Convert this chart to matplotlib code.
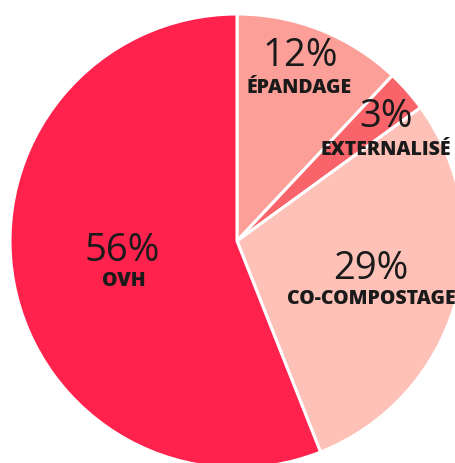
import matplotlib
matplotlib.use("Agg")
import matplotlib.pyplot as plt

categories = ["ÉPANDAGE", "EXTERNALISÉ", "CO-COMPOSTAGE", "OVH"]
values = [12, 3, 29, 56]
pct_labels = ["12%", "3%", "29%", "56%"]
colors = ["#fb9f98", "#f86469", "#fdc1b8", "#ff224d"]

W, H = 456, 463
fig = plt.figure(figsize=(W / 100, H / 100), dpi=100)
ax = fig.add_axes([0, 0, 1, 1])

cx, cy, r = 237, H - 241, 227
ax.pie(values, colors=colors, startangle=90, counterclock=False,
       center=(cx, cy), radius=r, frame=True,
       wedgeprops=dict(edgecolor="white", linewidth=2.2))
ax.set_xlim(0, W)
ax.set_ylim(0, H)
ax.set_aspect("equal")
ax.axis("off")

# label positions (image pixel coords): pct center, name center
pct_pos = [(300, 56), (386, 117), (371, 269), (122, 251)]
name_pos = [(299, 88), (386, 150), (371, 299), (124, 281)]

family = ["Open Sans", "DejaVu Sans"]
for pl, nm, (px, py), (nx, ny) in zip(pct_labels, categories, pct_pos, name_pos):
    ax.text(px, H - py, pl, ha="center", va="center", fontsize=27.5,
            fontweight=500, color="#1a1a1a", family=family)
    ax.text(nx, H - ny, nm, ha="center", va="center", fontsize=14,
            fontweight=800, color="#1a1a1a", family=family)

fig.savefig("out.png", dpi=100)
